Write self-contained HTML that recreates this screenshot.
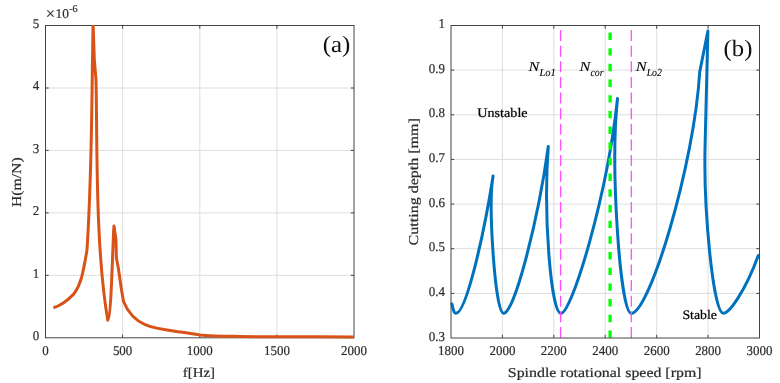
<!DOCTYPE html>
<html lang="en"><head><meta charset="utf-8"><title>Figure</title>
<style>html,body{margin:0;padding:0;background:#fff}svg{display:block;text-rendering:geometricPrecision}text{font-family:"Liberation Serif","DejaVu Serif",serif;fill:#2a2a2a}.tk{font-size:13.5px;stroke:#333;stroke-width:.2px}.lb{font-size:13.5px;stroke:#2a2a2a;stroke-width:.2px}.big{font-size:23.6px;fill:#111}.bk{fill:#000;stroke:#000;stroke-width:.22px}.it{font-style:italic;stroke-width:.08px}</style></head><body>
<svg width="780" height="383" viewBox="0 0 780 383">
<rect width="780" height="383" fill="#fff"/>
<defs><clipPath id="ca"><rect x="45.5" y="25.0" width="309.0" height="314.5"/></clipPath></defs>
<path d="M122.6 25.5V337.8M199.8 25.5V337.8M276.9 25.5V337.8M45.5 275.3H354.0M45.5 212.9H354.0M45.5 150.4H354.0M45.5 88.0H354.0" stroke="#dedede" stroke-width="1" fill="none"/>
<rect x="45.5" y="25.5" width="308.5" height="312.3" fill="none" stroke="#444444" stroke-width="1"/>
<path d="M122.6 337.8v-3.2M122.6 25.5v3.2M199.8 337.8v-3.2M199.8 25.5v3.2M276.9 337.8v-3.2M276.9 25.5v3.2M45.5 275.3h3.2M354.0 275.3h-3.2M45.5 212.9h3.2M354.0 212.9h-3.2M45.5 150.4h3.2M354.0 150.4h-3.2M45.5 88.0h3.2M354.0 88.0h-3.2" stroke="#444444" stroke-width="1" fill="none"/>
<path clip-path="url(#ca)" d="M53.4 307.8C57 306.8 60 305.2 63.3 303C67 300.5 71 296.9 73.9 293.9C76 291 79.5 285 81.6 277.4C83.5 270 85.5 259 87 250C92.2 168.9 91.3 118.7 93.1 23.0L94.3 59L96 80C97.4 135.1 95.0 247.1 107.8 320.3C111.5 319.4 112.9 233 114.0 226L116.0 240L116.4 258C117.2 262 117.9 264.5 119.3 274.6L121.4 289.2L123.5 301.5C136.4 333.1 164.3 328.2 200.0 334.9C213 336.2 226 336.2 240 336.5C270 337.1 300 336.4 320 336.7L354 337" fill="none" stroke="#d95319" stroke-width="3" stroke-linejoin="round" stroke-linecap="butt"/>
<text class="tk" transform="translate(45.5 355.2) scale(.96 1)" text-anchor="middle">0</text>
<text class="tk" transform="translate(122.6 355.2) scale(.96 1)" text-anchor="middle">500</text>
<text class="tk" transform="translate(199.8 355.2) scale(.96 1)" text-anchor="middle">1000</text>
<text class="tk" transform="translate(276.9 355.2) scale(.96 1)" text-anchor="middle">1500</text>
<text class="tk" transform="translate(354.0 355.2) scale(.96 1)" text-anchor="middle">2000</text>
<text class="tk" transform="translate(39.2 340.0) scale(.96 1)" text-anchor="end">0</text>
<text class="tk" transform="translate(39.2 277.5) scale(.96 1)" text-anchor="end">1</text>
<text class="tk" transform="translate(39.2 215.1) scale(.96 1)" text-anchor="end">2</text>
<text class="tk" transform="translate(39.2 152.6) scale(.96 1)" text-anchor="end">3</text>
<text class="tk" transform="translate(39.2 90.2) scale(.96 1)" text-anchor="end">4</text>
<text class="tk" transform="translate(39.2 27.7) scale(.96 1)" text-anchor="end">5</text>
<text class="tk" x="45.7" y="18.1" style="font-size:13.4px"><tspan style="font-size:16.5px" dy="0.9">×</tspan><tspan dx="0.6" dy="-0.9">10</tspan><tspan dy="-6" dx="0.2" style="font-size:10.2px">-6</tspan></text>
<text class="lb" x="198.9" y="377.2" text-anchor="middle" textLength="32.4" lengthAdjust="spacingAndGlyphs">f[Hz]</text>
<text class="lb" transform="translate(20.6 182.2) rotate(-90)" text-anchor="middle" textLength="49.6" lengthAdjust="spacingAndGlyphs">H(m/N)</text>
<text class="big" x="336.5" y="51.5" text-anchor="middle" textLength="27.7" lengthAdjust="spacingAndGlyphs">(a)</text>
<path d="M502.4 25.5V338.0M553.8 25.5V338.0M605.2 25.5V338.0M656.7 25.5V338.0M708.1 25.5V338.0M451.0 293.4H759.5M451.0 248.7H759.5M451.0 204.1H759.5M451.0 159.4H759.5M451.0 114.8H759.5M451.0 70.1H759.5" stroke="#dedede" stroke-width="1" fill="none"/>
<path d="M451.9 303.9C453 309 454 313.3 455.9 313.3C465.6 313.3 483.0 240.3 493.1 176.0C488.0 203.5 495.0 313.3 503.5 313.3C514.6 313.3 538.3 219.0 548.3 146.4C543.0 217.2 551.3 313.4 560.9 313.4C571.8 313.4 607.1 196.1 617.5 98.6C610.1 167.4 620.2 313.4 631.3 313.4C649.4 313.4 694.3 164.7 699.7 72.0L707.9 31L705.1 145C703.4 209.2 713.2 313.3 723.3 313.3C729.6 313.3 745.6 290.2 758.3 255.5" fill="none" stroke="#0072bd" stroke-width="3" stroke-linejoin="round" stroke-linecap="round"/>
<path d="M560.6 30V338M631.3 30V338" fill="none" stroke="#ff4dff" stroke-width="1.3" stroke-dasharray="11 4.63"/>
<path d="M610.1 32.5V338" fill="none" stroke="#00ff00" stroke-width="3.3" stroke-dasharray="7.4 8.28"/>
<rect x="451.0" y="25.5" width="308.5" height="312.5" fill="none" stroke="#444444" stroke-width="1"/>
<path d="M502.4 338.0v-3.2M502.4 25.5v3.2M553.8 338.0v-3.2M553.8 25.5v3.2M605.2 338.0v-3.2M605.2 25.5v3.2M656.7 338.0v-3.2M656.7 25.5v3.2M708.1 338.0v-3.2M708.1 25.5v3.2M451.0 293.4h3.2M759.5 293.4h-3.2M451.0 248.7h3.2M759.5 248.7h-3.2M451.0 204.1h3.2M759.5 204.1h-3.2M451.0 159.4h3.2M759.5 159.4h-3.2M451.0 114.8h3.2M759.5 114.8h-3.2M451.0 70.1h3.2M759.5 70.1h-3.2" stroke="#444444" stroke-width="1" fill="none"/>
<text class="tk" transform="translate(451.0 355.4) scale(.96 1)" text-anchor="middle">1800</text>
<text class="tk" transform="translate(502.4 355.4) scale(.96 1)" text-anchor="middle">2000</text>
<text class="tk" transform="translate(553.8 355.4) scale(.96 1)" text-anchor="middle">2200</text>
<text class="tk" transform="translate(605.2 355.4) scale(.96 1)" text-anchor="middle">2400</text>
<text class="tk" transform="translate(656.7 355.4) scale(.96 1)" text-anchor="middle">2600</text>
<text class="tk" transform="translate(708.1 355.4) scale(.96 1)" text-anchor="middle">2800</text>
<text class="tk" transform="translate(759.5 355.4) scale(.96 1)" text-anchor="middle">3000</text>
<text class="tk" transform="translate(444.9 340.5) scale(.96 1)" text-anchor="end">0.3</text>
<text class="tk" transform="translate(444.9 295.9) scale(.96 1)" text-anchor="end">0.4</text>
<text class="tk" transform="translate(444.9 251.2) scale(.96 1)" text-anchor="end">0.5</text>
<text class="tk" transform="translate(444.9 206.6) scale(.96 1)" text-anchor="end">0.6</text>
<text class="tk" transform="translate(444.9 161.9) scale(.96 1)" text-anchor="end">0.7</text>
<text class="tk" transform="translate(444.9 117.3) scale(.96 1)" text-anchor="end">0.8</text>
<text class="tk" transform="translate(444.9 72.6) scale(.96 1)" text-anchor="end">0.9</text>
<text class="tk" transform="translate(444.9 28.0) scale(.96 1)" text-anchor="end">1</text>
<text class="lb" x="604.7" y="376.6" text-anchor="middle" textLength="193.7" lengthAdjust="spacingAndGlyphs">Spindle rotational speed [rpm]</text>
<text class="lb" transform="translate(418.2 181.8) rotate(-90)" text-anchor="middle" textLength="127.2" lengthAdjust="spacingAndGlyphs">Cutting depth [mm]</text>
<text class="big" x="738" y="56" text-anchor="middle" textLength="28.8" lengthAdjust="spacingAndGlyphs">(b)</text>
<text class="lb bk" style="font-size:13px" x="477.3" y="116.8" textLength="50.3" lengthAdjust="spacingAndGlyphs">Unstable</text>
<text class="lb bk" style="font-size:13px" x="682.4" y="318.5" textLength="34.6" lengthAdjust="spacingAndGlyphs">Stable</text>
<text class="lb bk it" x="528.5" y="70.5"><tspan textLength="10.9" lengthAdjust="spacingAndGlyphs">N</tspan><tspan dy="5.8" style="font-size:10.8px" textLength="16.4" lengthAdjust="spacingAndGlyphs">Lo1</tspan></text>
<text class="lb bk it" x="579.5" y="70.5"><tspan textLength="10.9" lengthAdjust="spacingAndGlyphs">N</tspan><tspan dy="5.8" style="font-size:10.8px" textLength="13.1" lengthAdjust="spacingAndGlyphs">cor</tspan></text>
<text class="lb bk it" x="635.8" y="70.5"><tspan textLength="10.9" lengthAdjust="spacingAndGlyphs">N</tspan><tspan dy="5.8" style="font-size:10.8px" textLength="15.2" lengthAdjust="spacingAndGlyphs">Lo2</tspan></text>
</svg></body></html>
